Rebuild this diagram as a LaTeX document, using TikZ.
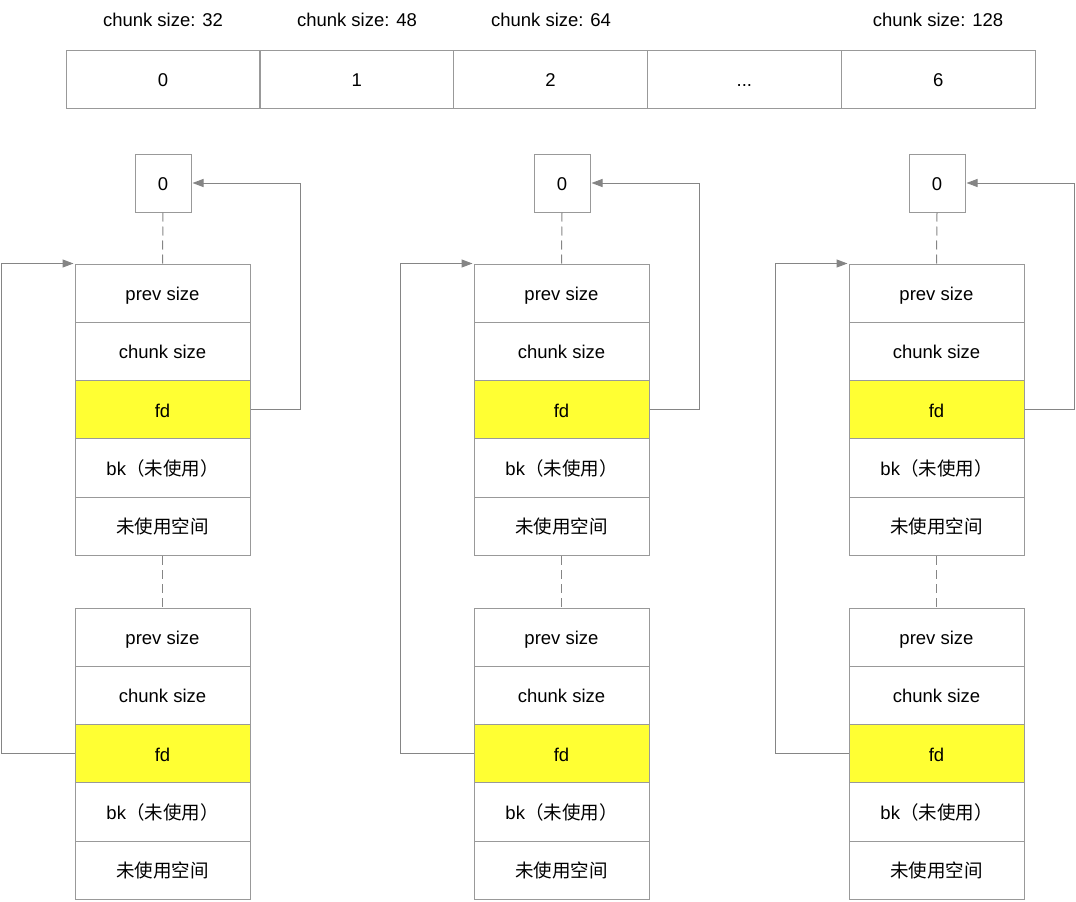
\documentclass[tikz,border=0pt]{standalone}
\usepackage{fontspec}
\setmainfont{Liberation Sans}
\newfontfamily\cjk{Noto Sans CJK SC}
\usetikzlibrary{arrows.meta}
\definecolor{bordc}{HTML}{999999}
\definecolor{arrc}{HTML}{858585}
\definecolor{fdy}{HTML}{FFFF33}
\begin{document}
\begin{tikzpicture}[x=1pt,y=-1pt,
  every node/.style={font=\fontsize{18.5}{22}\selectfont, text=black, text height=14.5pt, text depth=0pt},
  cell/.style={draw=bordc, line width=1pt, minimum width=175pt, minimum height=58.3pt, inner sep=0pt, fill=white},
  fdcell/.style={cell, fill=fdy},
  topcell/.style={draw=bordc, line width=1pt, minimum width=194pt, minimum height=58pt, inner sep=0pt},
  smallbox/.style={draw=bordc, line width=1pt, minimum width=56pt, minimum height=58pt, inner sep=0pt},
  conn/.style={draw=arrc, line width=1pt, -{Triangle[length=11pt,width=8pt]}},
  dsh/.style={draw=arrc, line width=1pt, dash pattern=on 9pt off 5pt}]
\useasboundingbox (0,0) rectangle (1076,902);
% top labels
\node (l0) at (163,19) {chunk size: 32};
\node (l1) at (357,19) {chunk size: 48};
\node (l2) at (551,19) {chunk size: 64};
\node (l6) at (938,19) {chunk size: 128};
% top array
\node[topcell] (t0) at (163,79) {0};
\node[topcell] (t1) at (356.8,79) {1};
\node[topcell] (t2) at (550.6,79) {2};
\node[topcell] (t3) at (744.4,79) {...};
\node[topcell] (t4) at (938.2,79) {6};
% columns
\foreach \c/\L in {a/75,b/474,c/849}{
  \node[smallbox] (\c0) at (\L+88,183) {0};
  \foreach \k/\T in {1/264,2/608}{
    \node[cell]   (\c\k p) at (\L+87.5,\T+29.15) {prev size};
    \node[cell]   (\c\k c) at (\L+87.5,\T+87.45) {chunk size};
    \node[fdcell] (\c\k f) at (\L+87.5,\T+145.75) {fd};
    \node[cell]   (\c\k b) at (\L+87.5,\T+204.05) {bk{\cjk（未使用）}};
    \node[cell]   (\c\k u) at (\L+87.5,\T+262.35) {{\cjk 未使用空间}};
  }
  \draw[dsh] (\c0.south) -- (\c1p.north);
  \draw[dsh] (\c1u.south) -- (\c2p.north);
  \draw[conn] (\c1f.east) -- ++(50,0) |- ([xshift=1pt]\c0.east);
  \draw[conn] (\c2f.west) -- ++(-73,0) |- ([xshift=-1pt]\c1p.north west);
}
\end{tikzpicture}
\end{document}
